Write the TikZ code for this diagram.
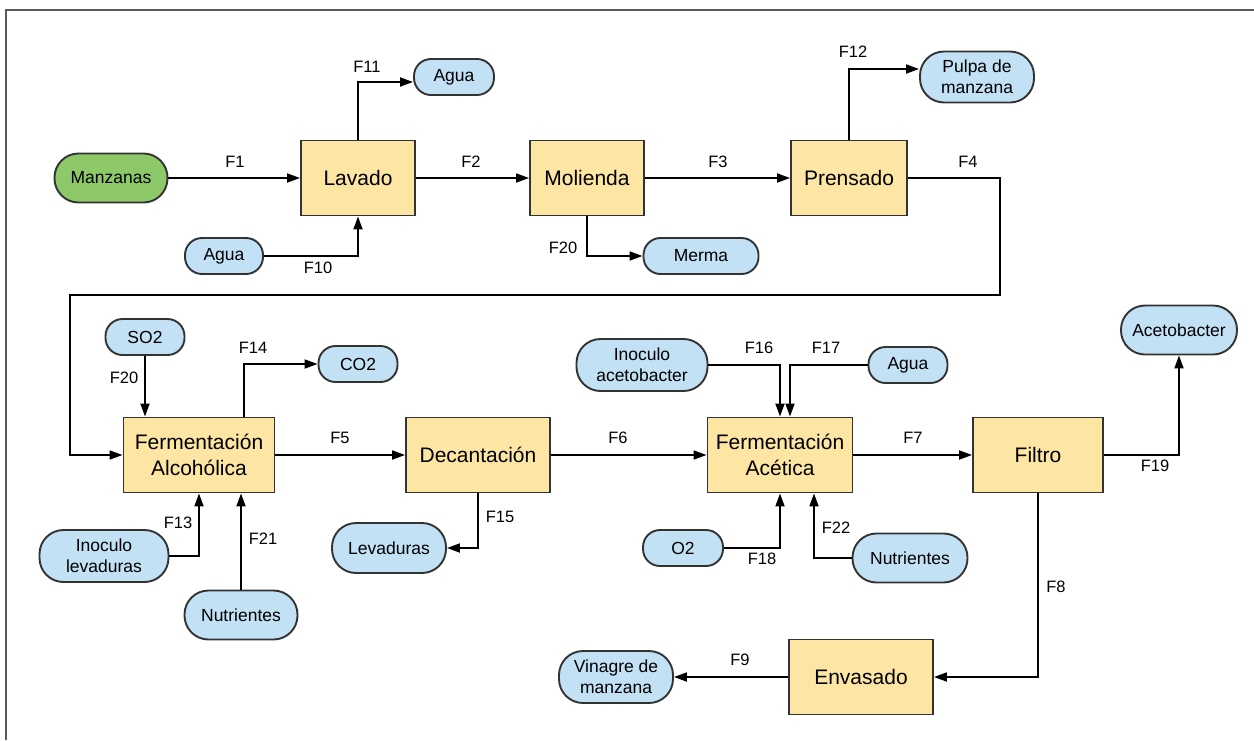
\documentclass[tikz,border=0pt]{standalone}
\usepackage{fontspec}
\setmainfont{Liberation Sans}
\usetikzlibrary{arrows.meta}
\definecolor{caja}{HTML}{FDE6A4}
\definecolor{ovalo}{HTML}{C2E1F5}
\definecolor{verde}{HTML}{8DC869}
\definecolor{borde}{HTML}{333333}
\definecolor{marco}{HTML}{595959}

\tikzset{
  proceso/.style={draw=borde, line width=1.9pt, fill=caja, minimum height=75pt,
    inner sep=0pt, align=center, font=\fontsize{21}{26}\selectfont},
  corriente/.style={draw=borde, line width=1.9pt, fill=ovalo, rounded corners=17pt,
    minimum height=36pt, inner sep=0pt, align=center, font=\fontsize{17.5}{21}\selectfont},
  alta/.style={minimum height=50pt, rounded corners=24pt},
  flujo/.style={font=\fontsize{16.5}{20}\selectfont, inner sep=0pt},
  linea/.style={line width=1.8pt, -{Triangle[length=13pt,width=9pt]}},
}

\begin{document}
\begin{tikzpicture}[x=1pt, y=-1pt]
\useasboundingbox (0,0) rectangle (1254,740);
\draw[marco, line width=2pt] (6,740) -- (6,10) -- (1254,10);

% etapas del proceso
\node[proceso, minimum width=114pt] (lav) at (358,178) {Lavado};
\node[proceso, minimum width=114pt] (mol) at (587,178) {Molienda};
\node[proceso, minimum width=116pt] (pre) at (849,178) {Prensado};
\node[proceso, minimum width=151pt] (fa) at (199,455) {Fermentación\\Alcohólica};
\node[proceso, minimum width=144pt] (dec) at (478,455) {Decantación};
\node[proceso, minimum width=145pt] (fac) at (780,455) {Fermentación\\Acética};
\node[proceso, minimum width=130pt] (fil) at (1038,455) {Filtro};
\node[proceso, minimum width=144pt] (env) at (861,677) {Envasado};

% entradas y salidas
\node[corriente, alta, fill=verde, minimum width=113pt, minimum height=49pt] (manz) at (111,178) {Manzanas};
\node[corriente, minimum width=80pt] (aguaA) at (454,77) {Agua};
\node[corriente, minimum width=78pt] (aguaB) at (224,256) {Agua};
\node[corriente, minimum width=115pt] (merma) at (701,256) {Merma};
\node[corriente, alta, minimum width=114pt, minimum height=51pt] (pulpa) at (977,77) {Pulpa de\\manzana};
\node[corriente, minimum width=79pt] (so2) at (145,337) {SO2};
\node[corriente, minimum width=79pt] (co2) at (358,364) {CO2};
\node[corriente, alta, minimum width=129pt, minimum height=52pt] (inolev) at (104,556) {Inoculo\\levaduras};
\node[corriente, alta, minimum width=113pt, minimum height=49pt] (nutA) at (241,615) {Nutrientes};
\node[corriente, alta, minimum width=114pt] (lev) at (389,548) {Levaduras};
\node[corriente, alta, minimum width=131pt, minimum height=52pt] (inoace) at (642,365) {Inoculo\\acetobacter};
\node[corriente, minimum width=79pt] (aguaC) at (908,365) {Agua};
\node[corriente, minimum width=80pt] (o2) at (683,548) {O2};
\node[corriente, alta, minimum width=115pt, minimum height=49pt] (nutB) at (910,558) {Nutrientes};
\node[corriente, alta, minimum width=116pt, minimum height=49pt] (acet) at (1179,330) {Acetobacter};
\node[corriente, alta, minimum width=114pt, minimum height=52pt] (vin) at (616,677) {Vinagre de\\manzana};

% nombres de los flujos
\foreach \t/\x/\y [count=\i] in {F1/235/162, F2/471/162, F3/718/162, F4/968/162,
    F11/367/67, F12/853/52, F10/318/268, F20/563/248, F20/124/378, F14/253/348,
    F5/340/438, F6/618/438, F13/178/523, F21/263/539, F15/500/517, F16/759/348,
    F17/826/348, F7/913/438, F19/1155/466, F18/762/559, F22/836/528, F8/1056/587,
    F9/740/660}
  \node[flujo] (lbl\i) at (\x,\y) {\t};

\coordinate (c4a) at (1000,295);
\coordinate (c4b) at (70,295);

% conexiones
\draw[linea] (manz.east) -- (manz.east -| lav.west);
\draw[linea] (lav.north) |- ([yshift=-5pt]aguaA.west);
\draw[linea] (aguaB.east) -| (lav.south);
\draw[linea] (lav.east) -- (mol.west);
\draw[linea] (mol.south) |- (merma.west);
\draw[linea] (mol.east) -- (pre.west);
\draw[linea] (pre.north) |- ([yshift=8pt]pulpa.west);
\draw[linea] (pre.east) -| (c4a) -- (c4b) |- (fa.west);
\draw[linea] (so2.south) -- (so2.south |- fa.north);
\draw[linea] ([xshift=45pt]fa.north) |- (co2.west);
\draw[linea] (inolev.east) -| (fa.south);
\draw[linea] (nutA.north) -- (nutA.north |- fa.south);
\draw[linea] (fa.east) -- (dec.west);
\draw[linea] (dec.south) |- (lev.east);
\draw[linea] (dec.east) -- (fac.west);
\draw[linea] (inoace.east) -| (fac.north);
\draw[linea] (aguaC.west) -| ([xshift=10pt]fac.north);
\draw[linea] (o2.east) -| (fac.south);
\draw[linea] (nutB.west) -| ([xshift=34pt]fac.south);
\draw[linea] (fac.east) -- (fil.west);
\draw[linea] (fil.east) -| (acet.south);
\draw[linea] (fil.south) |- (env.east);
\draw[linea] (env.west) -- (vin.east);
\end{tikzpicture}
\end{document}
